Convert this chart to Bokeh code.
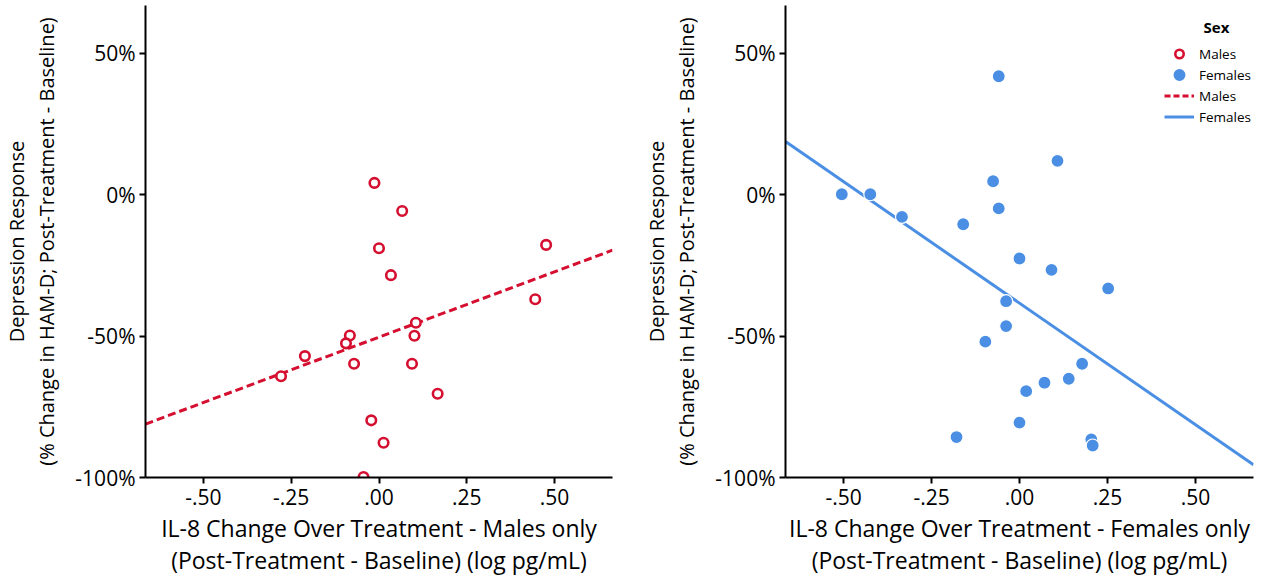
from bokeh.plotting import figure
from bokeh.models import Range1d, FixedTicker, ColumnDataSource, Legend, LegendItem, Label
from bokeh.layouts import row
from bokeh.embed import file_html
from bokeh.resources import INLINE

# ---- data ----
male_x = [-0.013, 0.066, 0.000, 0.034, 0.476, 0.445, 0.105, -0.083, -0.094, 0.101,
          -0.211, -0.071, 0.094, -0.279, 0.167, -0.022, 0.013, -0.044]
male_y = [4.1, -5.8, -19.0, -28.5, -17.8, -37.0, -45.3, -49.8, -52.6, -49.9,
          -57.1, -59.8, -59.8, -64.2, -70.4, -79.8, -87.7, -99.8]

female_x = [-0.059, 0.108, -0.075, -0.505, -0.424, -0.059, -0.334, -0.160, 0.000, 0.091,
            0.252, -0.038, -0.038, -0.097, 0.178, 0.140, 0.071, 0.019, 0.000, -0.179,
            0.204, 0.208]
female_y = [41.8, 11.9, 4.7, 0.1, 0.1, -4.9, -7.9, -10.5, -22.6, -26.6,
            -33.2, -37.7, -46.5, -52.0, -59.8, -65.1, -66.5, -69.5, -80.6, -85.7,
            -86.5, -88.7]

male_fit_intercept, male_fit_slope = -50.4, 46.2
female_fit_intercept, female_fit_slope = -38.4, -85.9

x_ticks = [-0.5, -0.25, 0.0, 0.25, 0.5]
x_tick_labels = ["-.50", "-.25", ".00", ".25", ".50"]
y_ticks = [50, 0, -50, -100]
y_tick_labels = ["50%", "0%", "-50%", "-100%"]

X_MIN, X_MAX = -0.665, 0.665
Y_MIN, Y_MAX = -100, 66.8

RED = "#D50F30"
BLUE = "#4A8FE4"
FONT = "Open Sans"
Y_TITLE = "Depression Response\n(% Change in HAM-D; Post-Treatment - Baseline)"


def make_fig(width, border_right, x_title):
    p = figure(width=width, height=585, x_range=Range1d(X_MIN, X_MAX),
               y_range=Range1d(Y_MIN, Y_MAX), output_backend="svg",
               toolbar_location=None, min_border_left=142, min_border_right=border_right,
               min_border_top=5, min_border_bottom=108)
    p.outline_line_color = None
    p.grid.visible = False
    p.background_fill_color = "white"
    p.border_fill_color = "white"
    p.xaxis.ticker = FixedTicker(ticks=x_ticks)
    p.xaxis.major_label_overrides = dict(zip(x_ticks, x_tick_labels))
    p.yaxis.ticker = FixedTicker(ticks=y_ticks)
    p.yaxis.major_label_overrides = dict(zip(y_ticks, y_tick_labels))
    p.xaxis.axis_label = x_title
    p.yaxis.axis_label = Y_TITLE
    for ax in (p.xaxis, p.yaxis):
        ax.axis_line_width = 2
        ax.axis_line_color = "black"
        ax.major_tick_line_width = 2
        ax.major_tick_out = 6
        ax.major_tick_in = 0
        ax.minor_tick_out = 0
        ax.minor_tick_in = 0
        ax.major_label_text_font = FONT
        ax.major_label_text_font_size = "21px"
        ax.major_label_text_color = "black"
        ax.axis_label_text_font = FONT
        ax.axis_label_text_font_style = "normal"
        ax.axis_label_text_color = "black"
    p.xaxis.axis_label_text_font_size = "23px"
    p.xaxis.axis_label_text_line_height = 1.03
    p.yaxis.axis_label_text_font_size = "20px"
    p.yaxis.axis_label_text_line_height = 1.12
    p.xaxis.major_label_standoff = 5
    p.xaxis.axis_label_standoff = 4
    p.yaxis.major_label_standoff = 4
    p.yaxis.axis_label_standoff = 12
    return p


fx = [X_MIN, X_MAX]

# ---- left panel: males ----
p1 = make_fig(640, 28, "IL-8 Change Over Treatment - Males only\n(Post-Treatment - Baseline) (log pg/mL)")
p1.line(fx, [male_fit_intercept + male_fit_slope * v for v in fx],
        line_color=RED, line_width=3, line_dash="8 4")
p1.scatter(male_x, male_y, marker="circle", size=9.5, fill_color="white",
           line_color=RED, line_width=2.6)

# ---- right panel: females ----
p2 = make_fig(630, 17, "IL-8 Change Over Treatment - Females only\n(Post-Treatment - Baseline) (log pg/mL)")
f_line = p2.line(fx, [female_fit_intercept + female_fit_slope * v for v in fx],
                 line_color=BLUE, line_width=3)
f_pts = p2.scatter(female_x, female_y, marker="circle", size=13, fill_color=BLUE,
                   line_color="white", line_width=1.2)

# hidden proxies used only to draw the legend symbols
m_src = ColumnDataSource(data=dict(x=male_x, y=male_y))
f_src = ColumnDataSource(data=dict(x=female_x, y=female_y))
m_pts_leg = p2.scatter("x", "y", source=m_src, marker="circle", size=9, fill_color="white",
                       line_color=RED, line_width=2.6, visible=False)
f_pts_leg = p2.scatter("x", "y", source=f_src, marker="circle", size=9, fill_color=BLUE,
                       line_color=BLUE, line_width=3.5, visible=False)
m_line_leg = p2.line(fx, [male_fit_intercept + male_fit_slope * v for v in fx],
                     line_color=RED, line_width=3, line_dash="6 3", visible=False)

legend = Legend(items=[
    LegendItem(label="Males", renderers=[m_pts_leg]),
    LegendItem(label="Females", renderers=[f_pts_leg]),
    LegendItem(label="Males", renderers=[m_line_leg]),
    LegendItem(label="Females", renderers=[f_line]),
], location=(379, 350))
legend.click_policy = "none"
legend.padding = 0
legend.margin = 0
legend.spacing = 0
legend.glyph_width = 30
legend.glyph_height = 21
legend.label_height = 21
legend.label_standoff = 5
legend.label_text_font = FONT
legend.label_text_font_size = "13.5px"
legend.label_text_color = "black"
legend.background_fill_alpha = 0
legend.border_line_color = None
legend.inactive_fill_alpha = 0
p2.add_layout(legend)

p2.add_layout(Label(x=431, y=451, x_units="screen", y_units="screen", text="Sex",
                    text_font=FONT, text_font_size="15px", text_font_style="bold",
                    text_align="center", text_baseline="middle", text_color="black"))

layout = row(p1, p2)
open("out.html", "w").write(file_html(layout, INLINE))
